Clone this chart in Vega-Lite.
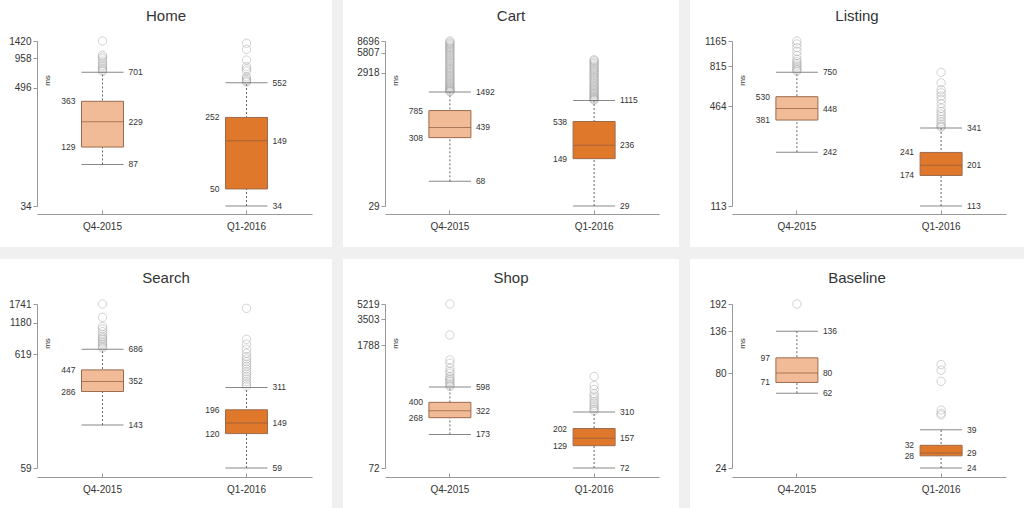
{
  "$schema": "https://vega.github.io/schema/vega-lite/v6.json",
  "background": "#f0f0f0",
  "padding": 0,
  "spacing": 12,
  "datasets": {
    "stats": [
      {"panel": "Home", "q": "Q4-2015", "lo": 87, "q1": 129, "med": 229, "q3": 363, "hi": 701},
      {"panel": "Home", "q": "Q1-2016", "lo": 34, "q1": 50, "med": 149, "q3": 252, "hi": 552},
      {"panel": "Cart", "q": "Q4-2015", "lo": 68, "q1": 308, "med": 439, "q3": 785, "hi": 1492},
      {"panel": "Cart", "q": "Q1-2016", "lo": 29, "q1": 149, "med": 236, "q3": 538, "hi": 1115},
      {"panel": "Listing", "q": "Q4-2015", "lo": 242, "q1": 381, "med": 448, "q3": 530, "hi": 750},
      {"panel": "Listing", "q": "Q1-2016", "lo": 113, "q1": 174, "med": 201, "q3": 241, "hi": 341},
      {"panel": "Search", "q": "Q4-2015", "lo": 143, "q1": 286, "med": 352, "q3": 447, "hi": 686},
      {"panel": "Search", "q": "Q1-2016", "lo": 59, "q1": 120, "med": 149, "q3": 196, "hi": 311},
      {"panel": "Shop", "q": "Q4-2015", "lo": 173, "q1": 268, "med": 322, "q3": 400, "hi": 598},
      {"panel": "Shop", "q": "Q1-2016", "lo": 72, "q1": 129, "med": 157, "q3": 202, "hi": 310},
      {"panel": "Baseline", "q": "Q4-2015", "lo": 62, "q1": 71, "med": 80, "q3": 97, "hi": 136},
      {"panel": "Baseline", "q": "Q1-2016", "lo": 24, "q1": 28, "med": 29, "q3": 32, "hi": 39}
    ],
    "out": [
      {"panel": "Home", "q": "Q4-2015", "v": 1420}, {"panel": "Home", "q": "Q4-2015", "v": 1030}, {"panel": "Home", "q": "Q4-2015", "v": 990}, {"panel": "Home", "q": "Q4-2015", "v": 950}, {"panel": "Home", "q": "Q4-2015", "v": 900}, {"panel": "Home", "q": "Q4-2015", "v": 860}, {"panel": "Home", "q": "Q4-2015", "v": 820}, {"panel": "Home", "q": "Q4-2015", "v": 790}, {"panel": "Home", "q": "Q4-2015", "v": 760}, {"panel": "Home", "q": "Q4-2015", "v": 735}, {"panel": "Home", "q": "Q4-2015", "v": 715},
      {"panel": "Home", "q": "Q1-2016", "v": 1350}, {"panel": "Home", "q": "Q1-2016", "v": 1174}, {"panel": "Home", "q": "Q1-2016", "v": 924}, {"panel": "Home", "q": "Q1-2016", "v": 795}, {"panel": "Home", "q": "Q1-2016", "v": 754}, {"panel": "Home", "q": "Q1-2016", "v": 720}, {"panel": "Home", "q": "Q1-2016", "v": 633}, {"panel": "Home", "q": "Q1-2016", "v": 610}, {"panel": "Home", "q": "Q1-2016", "v": 590}, {"panel": "Home", "q": "Q1-2016", "v": 575}, {"panel": "Home", "q": "Q1-2016", "v": 560},
      {"panel": "Cart", "q": "Q4-2015", "v": 8696}, {"panel": "Cart", "q": "Q4-2015", "v": 8350}, {"panel": "Cart", "q": "Q4-2015", "v": 8000}, {"panel": "Cart", "q": "Q4-2015", "v": 7650}, {"panel": "Cart", "q": "Q4-2015", "v": 7300}, {"panel": "Cart", "q": "Q4-2015", "v": 7000}, {"panel": "Cart", "q": "Q4-2015", "v": 6700}, {"panel": "Cart", "q": "Q4-2015", "v": 6400}, {"panel": "Cart", "q": "Q4-2015", "v": 6100}, {"panel": "Cart", "q": "Q4-2015", "v": 5800}, {"panel": "Cart", "q": "Q4-2015", "v": 5500}, {"panel": "Cart", "q": "Q4-2015", "v": 5250}, {"panel": "Cart", "q": "Q4-2015", "v": 5000}, {"panel": "Cart", "q": "Q4-2015", "v": 4750}, {"panel": "Cart", "q": "Q4-2015", "v": 4500}, {"panel": "Cart", "q": "Q4-2015", "v": 4300}, {"panel": "Cart", "q": "Q4-2015", "v": 4100}, {"panel": "Cart", "q": "Q4-2015", "v": 3900}, {"panel": "Cart", "q": "Q4-2015", "v": 3700}, {"panel": "Cart", "q": "Q4-2015", "v": 3500}, {"panel": "Cart", "q": "Q4-2015", "v": 3350}, {"panel": "Cart", "q": "Q4-2015", "v": 3200}, {"panel": "Cart", "q": "Q4-2015", "v": 3050}, {"panel": "Cart", "q": "Q4-2015", "v": 2900}, {"panel": "Cart", "q": "Q4-2015", "v": 2780}, {"panel": "Cart", "q": "Q4-2015", "v": 2650}, {"panel": "Cart", "q": "Q4-2015", "v": 2530}, {"panel": "Cart", "q": "Q4-2015", "v": 2420}, {"panel": "Cart", "q": "Q4-2015", "v": 2310}, {"panel": "Cart", "q": "Q4-2015", "v": 2200}, {"panel": "Cart", "q": "Q4-2015", "v": 2110}, {"panel": "Cart", "q": "Q4-2015", "v": 2020}, {"panel": "Cart", "q": "Q4-2015", "v": 1940}, {"panel": "Cart", "q": "Q4-2015", "v": 1860}, {"panel": "Cart", "q": "Q4-2015", "v": 1790}, {"panel": "Cart", "q": "Q4-2015", "v": 1720}, {"panel": "Cart", "q": "Q4-2015", "v": 1660}, {"panel": "Cart", "q": "Q4-2015", "v": 1600}, {"panel": "Cart", "q": "Q4-2015", "v": 1550}, {"panel": "Cart", "q": "Q4-2015", "v": 1510},
      {"panel": "Cart", "q": "Q1-2016", "v": 4557}, {"panel": "Cart", "q": "Q1-2016", "v": 4400}, {"panel": "Cart", "q": "Q1-2016", "v": 4200}, {"panel": "Cart", "q": "Q1-2016", "v": 4000}, {"panel": "Cart", "q": "Q1-2016", "v": 3800}, {"panel": "Cart", "q": "Q1-2016", "v": 3600}, {"panel": "Cart", "q": "Q1-2016", "v": 3400}, {"panel": "Cart", "q": "Q1-2016", "v": 3250}, {"panel": "Cart", "q": "Q1-2016", "v": 3100}, {"panel": "Cart", "q": "Q1-2016", "v": 2950}, {"panel": "Cart", "q": "Q1-2016", "v": 2800}, {"panel": "Cart", "q": "Q1-2016", "v": 2650}, {"panel": "Cart", "q": "Q1-2016", "v": 2520}, {"panel": "Cart", "q": "Q1-2016", "v": 2400}, {"panel": "Cart", "q": "Q1-2016", "v": 2280}, {"panel": "Cart", "q": "Q1-2016", "v": 2170}, {"panel": "Cart", "q": "Q1-2016", "v": 2060}, {"panel": "Cart", "q": "Q1-2016", "v": 1960}, {"panel": "Cart", "q": "Q1-2016", "v": 1870}, {"panel": "Cart", "q": "Q1-2016", "v": 1780}, {"panel": "Cart", "q": "Q1-2016", "v": 1700}, {"panel": "Cart", "q": "Q1-2016", "v": 1620}, {"panel": "Cart", "q": "Q1-2016", "v": 1550}, {"panel": "Cart", "q": "Q1-2016", "v": 1480}, {"panel": "Cart", "q": "Q1-2016", "v": 1420}, {"panel": "Cart", "q": "Q1-2016", "v": 1360}, {"panel": "Cart", "q": "Q1-2016", "v": 1300}, {"panel": "Cart", "q": "Q1-2016", "v": 1250}, {"panel": "Cart", "q": "Q1-2016", "v": 1200}, {"panel": "Cart", "q": "Q1-2016", "v": 1160}, {"panel": "Cart", "q": "Q1-2016", "v": 1130},
      {"panel": "Listing", "q": "Q4-2015", "v": 1165}, {"panel": "Listing", "q": "Q4-2015", "v": 1117}, {"panel": "Listing", "q": "Q4-2015", "v": 1060}, {"panel": "Listing", "q": "Q4-2015", "v": 1006}, {"panel": "Listing", "q": "Q4-2015", "v": 950}, {"panel": "Listing", "q": "Q4-2015", "v": 900}, {"panel": "Listing", "q": "Q4-2015", "v": 873}, {"panel": "Listing", "q": "Q4-2015", "v": 850}, {"panel": "Listing", "q": "Q4-2015", "v": 830}, {"panel": "Listing", "q": "Q4-2015", "v": 810}, {"panel": "Listing", "q": "Q4-2015", "v": 790}, {"panel": "Listing", "q": "Q4-2015", "v": 775}, {"panel": "Listing", "q": "Q4-2015", "v": 760},
      {"panel": "Listing", "q": "Q1-2016", "v": 748}, {"panel": "Listing", "q": "Q1-2016", "v": 645}, {"panel": "Listing", "q": "Q1-2016", "v": 585}, {"panel": "Listing", "q": "Q1-2016", "v": 560}, {"panel": "Listing", "q": "Q1-2016", "v": 535}, {"panel": "Listing", "q": "Q1-2016", "v": 510}, {"panel": "Listing", "q": "Q1-2016", "v": 480}, {"panel": "Listing", "q": "Q1-2016", "v": 450}, {"panel": "Listing", "q": "Q1-2016", "v": 430}, {"panel": "Listing", "q": "Q1-2016", "v": 415}, {"panel": "Listing", "q": "Q1-2016", "v": 400}, {"panel": "Listing", "q": "Q1-2016", "v": 385}, {"panel": "Listing", "q": "Q1-2016", "v": 372}, {"panel": "Listing", "q": "Q1-2016", "v": 360}, {"panel": "Listing", "q": "Q1-2016", "v": 350}, {"panel": "Listing", "q": "Q1-2016", "v": 345},
      {"panel": "Search", "q": "Q4-2015", "v": 1741}, {"panel": "Search", "q": "Q4-2015", "v": 1323}, {"panel": "Search", "q": "Q4-2015", "v": 1092}, {"panel": "Search", "q": "Q4-2015", "v": 1040}, {"panel": "Search", "q": "Q4-2015", "v": 983}, {"panel": "Search", "q": "Q4-2015", "v": 930}, {"panel": "Search", "q": "Q4-2015", "v": 888}, {"panel": "Search", "q": "Q4-2015", "v": 860}, {"panel": "Search", "q": "Q4-2015", "v": 833}, {"panel": "Search", "q": "Q4-2015", "v": 800}, {"panel": "Search", "q": "Q4-2015", "v": 775}, {"panel": "Search", "q": "Q4-2015", "v": 750}, {"panel": "Search", "q": "Q4-2015", "v": 723}, {"panel": "Search", "q": "Q4-2015", "v": 700},
      {"panel": "Search", "q": "Q1-2016", "v": 1592}, {"panel": "Search", "q": "Q1-2016", "v": 841}, {"panel": "Search", "q": "Q1-2016", "v": 760}, {"panel": "Search", "q": "Q1-2016", "v": 684}, {"panel": "Search", "q": "Q1-2016", "v": 630}, {"panel": "Search", "q": "Q1-2016", "v": 589}, {"panel": "Search", "q": "Q1-2016", "v": 560}, {"panel": "Search", "q": "Q1-2016", "v": 531}, {"panel": "Search", "q": "Q1-2016", "v": 505}, {"panel": "Search", "q": "Q1-2016", "v": 480}, {"panel": "Search", "q": "Q1-2016", "v": 455}, {"panel": "Search", "q": "Q1-2016", "v": 430}, {"panel": "Search", "q": "Q1-2016", "v": 410}, {"panel": "Search", "q": "Q1-2016", "v": 390}, {"panel": "Search", "q": "Q1-2016", "v": 370}, {"panel": "Search", "q": "Q1-2016", "v": 350}, {"panel": "Search", "q": "Q1-2016", "v": 335}, {"panel": "Search", "q": "Q1-2016", "v": 320},
      {"panel": "Shop", "q": "Q4-2015", "v": 5219}, {"panel": "Shop", "q": "Q4-2015", "v": 2326}, {"panel": "Shop", "q": "Q4-2015", "v": 1213}, {"panel": "Shop", "q": "Q4-2015", "v": 1112}, {"panel": "Shop", "q": "Q4-2015", "v": 975}, {"panel": "Shop", "q": "Q4-2015", "v": 900}, {"panel": "Shop", "q": "Q4-2015", "v": 856}, {"panel": "Shop", "q": "Q4-2015", "v": 785}, {"panel": "Shop", "q": "Q4-2015", "v": 750}, {"panel": "Shop", "q": "Q4-2015", "v": 720}, {"panel": "Shop", "q": "Q4-2015", "v": 690}, {"panel": "Shop", "q": "Q4-2015", "v": 661}, {"panel": "Shop", "q": "Q4-2015", "v": 630}, {"panel": "Shop", "q": "Q4-2015", "v": 606},
      {"panel": "Shop", "q": "Q1-2016", "v": 785}, {"panel": "Shop", "q": "Q1-2016", "v": 622}, {"panel": "Shop", "q": "Q1-2016", "v": 560}, {"panel": "Shop", "q": "Q1-2016", "v": 500}, {"panel": "Shop", "q": "Q1-2016", "v": 470}, {"panel": "Shop", "q": "Q1-2016", "v": 440}, {"panel": "Shop", "q": "Q1-2016", "v": 410}, {"panel": "Shop", "q": "Q1-2016", "v": 390}, {"panel": "Shop", "q": "Q1-2016", "v": 370}, {"panel": "Shop", "q": "Q1-2016", "v": 350}, {"panel": "Shop", "q": "Q1-2016", "v": 335}, {"panel": "Shop", "q": "Q1-2016", "v": 320},
      {"panel": "Baseline", "q": "Q4-2015", "v": 192},
      {"panel": "Baseline", "q": "Q1-2016", "v": 89}, {"panel": "Baseline", "q": "Q1-2016", "v": 83}, {"panel": "Baseline", "q": "Q1-2016", "v": 72}, {"panel": "Baseline", "q": "Q1-2016", "v": 50}, {"panel": "Baseline", "q": "Q1-2016", "v": 48}, {"panel": "Baseline", "q": "Q1-2016", "v": 47}
    ]
  },
  "vconcat": [
    {
      "spacing": 11,
      "hconcat": [
        {
          "width": 332, "height": 247,
          "title": {"text": "Home", "offset": -24},
          "encoding": {"x": {"field": "q", "type": "nominal", "sort": ["Q4-2015", "Q1-2016"], "scale": {"domain": ["Q4-2015", "Q1-2016"], "range": [37, 312], "paddingInner": 0.5, "paddingOuter": 0.205}, "axis": {"offset": -33, "title": null}}},
          "layer": [
            {"data": {"name": "stats"}, "transform": [{"filter": "datum.panel === 'Home'"}], "mark": {"type": "rule", "strokeDash": [2, 2], "color": "#666"}, "encoding": {"y": {"field": "lo", "type": "quantitative", "title": "ms", "scale": {"type": "log", "domain": [34, 1420], "range": [206, 41], "nice": false}, "axis": {"values": [34, 496, 958, 1420], "labelExpr": "format(datum.value, 'd')", "offset": -37, "title": "ms", "titleX": 10, "titleY": 80}}, "y2": {"field": "hi"}}},
            {"data": {"name": "out"}, "transform": [{"filter": "datum.panel === 'Home'"}], "mark": {"type": "point", "shape": "circle", "size": 70, "filled": false, "stroke": "#999", "strokeOpacity": 0.6, "strokeWidth": 1}, "encoding": {"y": {"field": "v", "type": "quantitative", "title": "ms"}}},
            {"data": {"name": "stats"}, "transform": [{"filter": "datum.panel === 'Home'"}], "mark": {"type": "tick", "color": "#555", "thickness": 1, "size": 42}, "encoding": {"y": {"field": "lo", "type": "quantitative", "title": "ms"}}},
            {"data": {"name": "stats"}, "transform": [{"filter": "datum.panel === 'Home'"}], "mark": {"type": "tick", "color": "#555", "thickness": 1, "size": 42}, "encoding": {"y": {"field": "hi", "type": "quantitative", "title": "ms"}}},
            {"data": {"name": "stats"}, "transform": [{"filter": "datum.panel === 'Home'"}], "mark": {"type": "bar", "size": 42, "stroke": "#9c6b4e", "strokeWidth": 1}, "encoding": {"y": {"field": "q1", "type": "quantitative", "title": "ms"}, "y2": {"field": "q3"}, "color": {"field": "q", "type": "nominal", "scale": {"domain": ["Q4-2015", "Q1-2016"], "range": ["#f2bb97", "#e0782b"]}, "legend": null}}},
            {"data": {"name": "stats"}, "transform": [{"filter": "datum.panel === 'Home'"}], "mark": {"type": "tick", "color": "#8a5d40", "thickness": 1, "size": 42}, "encoding": {"y": {"field": "med", "type": "quantitative", "title": "ms"}}},
            {"data": {"name": "stats"}, "transform": [{"filter": "datum.panel === 'Home'"}], "mark": {"type": "text", "align": "right", "dx": -27, "fontSize": 8.5, "color": "#333"}, "encoding": {"y": {"field": "q3", "type": "quantitative", "title": "ms"}, "text": {"field": "q3", "type": "quantitative", "format": "d"}}},
            {"data": {"name": "stats"}, "transform": [{"filter": "datum.panel === 'Home'"}], "mark": {"type": "text", "align": "right", "dx": -27, "fontSize": 8.5, "color": "#333"}, "encoding": {"y": {"field": "q1", "type": "quantitative", "title": "ms"}, "text": {"field": "q1", "type": "quantitative", "format": "d"}}},
            {"data": {"name": "stats"}, "transform": [{"filter": "datum.panel === 'Home'"}], "mark": {"type": "text", "align": "left", "dx": 26, "fontSize": 8.5, "color": "#333"}, "encoding": {"y": {"field": "med", "type": "quantitative", "title": "ms"}, "text": {"field": "med", "type": "quantitative", "format": "d"}}},
            {"data": {"name": "stats"}, "transform": [{"filter": "datum.panel === 'Home'"}], "mark": {"type": "text", "align": "left", "dx": 26, "fontSize": 8.5, "color": "#333"}, "encoding": {"y": {"field": "hi", "type": "quantitative", "title": "ms"}, "text": {"field": "hi", "type": "quantitative", "format": "d"}}},
            {"data": {"name": "stats"}, "transform": [{"filter": "datum.panel === 'Home'"}], "mark": {"type": "text", "align": "left", "dx": 26, "fontSize": 8.5, "color": "#333"}, "encoding": {"y": {"field": "lo", "type": "quantitative", "title": "ms"}, "text": {"field": "lo", "type": "quantitative", "format": "d"}}}
          ]
        },
        {
          "width": 336, "height": 247,
          "title": {"text": "Cart", "offset": -24},
          "encoding": {"x": {"field": "q", "type": "nominal", "sort": ["Q4-2015", "Q1-2016"], "scale": {"domain": ["Q4-2015", "Q1-2016"], "range": [42, 316], "paddingInner": 0.5, "paddingOuter": 0.2}, "axis": {"offset": -33, "title": null}}},
          "layer": [
            {"data": {"name": "stats"}, "transform": [{"filter": "datum.panel === 'Cart'"}], "mark": {"type": "rule", "strokeDash": [2, 2], "color": "#666"}, "encoding": {"y": {"field": "lo", "type": "quantitative", "title": "ms", "scale": {"type": "log", "domain": [29, 8696], "range": [206, 41], "nice": false}, "axis": {"values": [29, 2918, 5807, 8696], "labelExpr": "format(datum.value, 'd')", "offset": -42, "title": "ms", "titleX": 10, "titleY": 80}}, "y2": {"field": "hi"}}},
            {"data": {"name": "out"}, "transform": [{"filter": "datum.panel === 'Cart'"}], "mark": {"type": "point", "shape": "circle", "size": 70, "filled": false, "stroke": "#999", "strokeOpacity": 0.6, "strokeWidth": 1}, "encoding": {"y": {"field": "v", "type": "quantitative", "title": "ms"}}},
            {"data": {"name": "stats"}, "transform": [{"filter": "datum.panel === 'Cart'"}], "mark": {"type": "tick", "color": "#555", "thickness": 1, "size": 42}, "encoding": {"y": {"field": "lo", "type": "quantitative", "title": "ms"}}},
            {"data": {"name": "stats"}, "transform": [{"filter": "datum.panel === 'Cart'"}], "mark": {"type": "tick", "color": "#555", "thickness": 1, "size": 42}, "encoding": {"y": {"field": "hi", "type": "quantitative", "title": "ms"}}},
            {"data": {"name": "stats"}, "transform": [{"filter": "datum.panel === 'Cart'"}], "mark": {"type": "bar", "size": 42, "stroke": "#9c6b4e", "strokeWidth": 1}, "encoding": {"y": {"field": "q1", "type": "quantitative", "title": "ms"}, "y2": {"field": "q3"}, "color": {"field": "q", "type": "nominal", "scale": {"domain": ["Q4-2015", "Q1-2016"], "range": ["#f2bb97", "#e0782b"]}, "legend": null}}},
            {"data": {"name": "stats"}, "transform": [{"filter": "datum.panel === 'Cart'"}], "mark": {"type": "tick", "color": "#8a5d40", "thickness": 1, "size": 42}, "encoding": {"y": {"field": "med", "type": "quantitative", "title": "ms"}}},
            {"data": {"name": "stats"}, "transform": [{"filter": "datum.panel === 'Cart'"}], "mark": {"type": "text", "align": "right", "dx": -27, "fontSize": 8.5, "color": "#333"}, "encoding": {"y": {"field": "q3", "type": "quantitative", "title": "ms"}, "text": {"field": "q3", "type": "quantitative", "format": "d"}}},
            {"data": {"name": "stats"}, "transform": [{"filter": "datum.panel === 'Cart'"}], "mark": {"type": "text", "align": "right", "dx": -27, "fontSize": 8.5, "color": "#333"}, "encoding": {"y": {"field": "q1", "type": "quantitative", "title": "ms"}, "text": {"field": "q1", "type": "quantitative", "format": "d"}}},
            {"data": {"name": "stats"}, "transform": [{"filter": "datum.panel === 'Cart'"}], "mark": {"type": "text", "align": "left", "dx": 26, "fontSize": 8.5, "color": "#333"}, "encoding": {"y": {"field": "med", "type": "quantitative", "title": "ms"}, "text": {"field": "med", "type": "quantitative", "format": "d"}}},
            {"data": {"name": "stats"}, "transform": [{"filter": "datum.panel === 'Cart'"}], "mark": {"type": "text", "align": "left", "dx": 26, "fontSize": 8.5, "color": "#333"}, "encoding": {"y": {"field": "hi", "type": "quantitative", "title": "ms"}, "text": {"field": "hi", "type": "quantitative", "format": "d"}}},
            {"data": {"name": "stats"}, "transform": [{"filter": "datum.panel === 'Cart'"}], "mark": {"type": "text", "align": "left", "dx": 26, "fontSize": 8.5, "color": "#333"}, "encoding": {"y": {"field": "lo", "type": "quantitative", "title": "ms"}, "text": {"field": "lo", "type": "quantitative", "format": "d"}}}
          ]
        },
        {
          "width": 334, "height": 247,
          "title": {"text": "Listing", "offset": -24},
          "encoding": {"x": {"field": "q", "type": "nominal", "sort": ["Q4-2015", "Q1-2016"], "scale": {"domain": ["Q4-2015", "Q1-2016"], "range": [42, 316], "paddingInner": 0.5, "paddingOuter": 0.2}, "axis": {"offset": -33, "title": null}}},
          "layer": [
            {"data": {"name": "stats"}, "transform": [{"filter": "datum.panel === 'Listing'"}], "mark": {"type": "rule", "strokeDash": [2, 2], "color": "#666"}, "encoding": {"y": {"field": "lo", "type": "quantitative", "title": "ms", "scale": {"type": "log", "domain": [113, 1165], "range": [206, 41], "nice": false}, "axis": {"values": [113, 464, 815, 1165], "labelExpr": "format(datum.value, 'd')", "offset": -42, "title": "ms", "titleX": 10, "titleY": 80}}, "y2": {"field": "hi"}}},
            {"data": {"name": "out"}, "transform": [{"filter": "datum.panel === 'Listing'"}], "mark": {"type": "point", "shape": "circle", "size": 70, "filled": false, "stroke": "#999", "strokeOpacity": 0.6, "strokeWidth": 1}, "encoding": {"y": {"field": "v", "type": "quantitative", "title": "ms"}}},
            {"data": {"name": "stats"}, "transform": [{"filter": "datum.panel === 'Listing'"}], "mark": {"type": "tick", "color": "#555", "thickness": 1, "size": 42}, "encoding": {"y": {"field": "lo", "type": "quantitative", "title": "ms"}}},
            {"data": {"name": "stats"}, "transform": [{"filter": "datum.panel === 'Listing'"}], "mark": {"type": "tick", "color": "#555", "thickness": 1, "size": 42}, "encoding": {"y": {"field": "hi", "type": "quantitative", "title": "ms"}}},
            {"data": {"name": "stats"}, "transform": [{"filter": "datum.panel === 'Listing'"}], "mark": {"type": "bar", "size": 42, "stroke": "#9c6b4e", "strokeWidth": 1}, "encoding": {"y": {"field": "q1", "type": "quantitative", "title": "ms"}, "y2": {"field": "q3"}, "color": {"field": "q", "type": "nominal", "scale": {"domain": ["Q4-2015", "Q1-2016"], "range": ["#f2bb97", "#e0782b"]}, "legend": null}}},
            {"data": {"name": "stats"}, "transform": [{"filter": "datum.panel === 'Listing'"}], "mark": {"type": "tick", "color": "#8a5d40", "thickness": 1, "size": 42}, "encoding": {"y": {"field": "med", "type": "quantitative", "title": "ms"}}},
            {"data": {"name": "stats"}, "transform": [{"filter": "datum.panel === 'Listing'"}], "mark": {"type": "text", "align": "right", "dx": -27, "fontSize": 8.5, "color": "#333"}, "encoding": {"y": {"field": "q3", "type": "quantitative", "title": "ms"}, "text": {"field": "q3", "type": "quantitative", "format": "d"}}},
            {"data": {"name": "stats"}, "transform": [{"filter": "datum.panel === 'Listing'"}], "mark": {"type": "text", "align": "right", "dx": -27, "fontSize": 8.5, "color": "#333"}, "encoding": {"y": {"field": "q1", "type": "quantitative", "title": "ms"}, "text": {"field": "q1", "type": "quantitative", "format": "d"}}},
            {"data": {"name": "stats"}, "transform": [{"filter": "datum.panel === 'Listing'"}], "mark": {"type": "text", "align": "left", "dx": 26, "fontSize": 8.5, "color": "#333"}, "encoding": {"y": {"field": "med", "type": "quantitative", "title": "ms"}, "text": {"field": "med", "type": "quantitative", "format": "d"}}},
            {"data": {"name": "stats"}, "transform": [{"filter": "datum.panel === 'Listing'"}], "mark": {"type": "text", "align": "left", "dx": 26, "fontSize": 8.5, "color": "#333"}, "encoding": {"y": {"field": "hi", "type": "quantitative", "title": "ms"}, "text": {"field": "hi", "type": "quantitative", "format": "d"}}},
            {"data": {"name": "stats"}, "transform": [{"filter": "datum.panel === 'Listing'"}], "mark": {"type": "text", "align": "left", "dx": 26, "fontSize": 8.5, "color": "#333"}, "encoding": {"y": {"field": "lo", "type": "quantitative", "title": "ms"}, "text": {"field": "lo", "type": "quantitative", "format": "d"}}}
          ]
        }
      ]
    },
    {
      "spacing": 11,
      "hconcat": [
        {
          "width": 332, "height": 249,
          "title": {"text": "Search", "offset": -27},
          "encoding": {"x": {"field": "q", "type": "nominal", "sort": ["Q4-2015", "Q1-2016"], "scale": {"domain": ["Q4-2015", "Q1-2016"], "range": [37, 312], "paddingInner": 0.5, "paddingOuter": 0.205}, "axis": {"offset": -31, "title": null}}},
          "layer": [
            {"data": {"name": "stats"}, "transform": [{"filter": "datum.panel === 'Search'"}], "mark": {"type": "rule", "strokeDash": [2, 2], "color": "#666"}, "encoding": {"y": {"field": "lo", "type": "quantitative", "title": "ms", "scale": {"type": "log", "domain": [59, 1741], "range": [209, 45], "nice": false}, "axis": {"values": [59, 619, 1180, 1741], "labelExpr": "format(datum.value, 'd')", "offset": -37, "title": "ms", "titleX": 10, "titleY": 84}}, "y2": {"field": "hi"}}},
            {"data": {"name": "out"}, "transform": [{"filter": "datum.panel === 'Search'"}], "mark": {"type": "point", "shape": "circle", "size": 70, "filled": false, "stroke": "#999", "strokeOpacity": 0.6, "strokeWidth": 1}, "encoding": {"y": {"field": "v", "type": "quantitative", "title": "ms"}}},
            {"data": {"name": "stats"}, "transform": [{"filter": "datum.panel === 'Search'"}], "mark": {"type": "tick", "color": "#555", "thickness": 1, "size": 42}, "encoding": {"y": {"field": "lo", "type": "quantitative", "title": "ms"}}},
            {"data": {"name": "stats"}, "transform": [{"filter": "datum.panel === 'Search'"}], "mark": {"type": "tick", "color": "#555", "thickness": 1, "size": 42}, "encoding": {"y": {"field": "hi", "type": "quantitative", "title": "ms"}}},
            {"data": {"name": "stats"}, "transform": [{"filter": "datum.panel === 'Search'"}], "mark": {"type": "bar", "size": 42, "stroke": "#9c6b4e", "strokeWidth": 1}, "encoding": {"y": {"field": "q1", "type": "quantitative", "title": "ms"}, "y2": {"field": "q3"}, "color": {"field": "q", "type": "nominal", "scale": {"domain": ["Q4-2015", "Q1-2016"], "range": ["#f2bb97", "#e0782b"]}, "legend": null}}},
            {"data": {"name": "stats"}, "transform": [{"filter": "datum.panel === 'Search'"}], "mark": {"type": "tick", "color": "#8a5d40", "thickness": 1, "size": 42}, "encoding": {"y": {"field": "med", "type": "quantitative", "title": "ms"}}},
            {"data": {"name": "stats"}, "transform": [{"filter": "datum.panel === 'Search'"}], "mark": {"type": "text", "align": "right", "dx": -27, "fontSize": 8.5, "color": "#333"}, "encoding": {"y": {"field": "q3", "type": "quantitative", "title": "ms"}, "text": {"field": "q3", "type": "quantitative", "format": "d"}}},
            {"data": {"name": "stats"}, "transform": [{"filter": "datum.panel === 'Search'"}], "mark": {"type": "text", "align": "right", "dx": -27, "fontSize": 8.5, "color": "#333"}, "encoding": {"y": {"field": "q1", "type": "quantitative", "title": "ms"}, "text": {"field": "q1", "type": "quantitative", "format": "d"}}},
            {"data": {"name": "stats"}, "transform": [{"filter": "datum.panel === 'Search'"}], "mark": {"type": "text", "align": "left", "dx": 26, "fontSize": 8.5, "color": "#333"}, "encoding": {"y": {"field": "med", "type": "quantitative", "title": "ms"}, "text": {"field": "med", "type": "quantitative", "format": "d"}}},
            {"data": {"name": "stats"}, "transform": [{"filter": "datum.panel === 'Search'"}], "mark": {"type": "text", "align": "left", "dx": 26, "fontSize": 8.5, "color": "#333"}, "encoding": {"y": {"field": "hi", "type": "quantitative", "title": "ms"}, "text": {"field": "hi", "type": "quantitative", "format": "d"}}},
            {"data": {"name": "stats"}, "transform": [{"filter": "datum.panel === 'Search'"}], "mark": {"type": "text", "align": "left", "dx": 26, "fontSize": 8.5, "color": "#333"}, "encoding": {"y": {"field": "lo", "type": "quantitative", "title": "ms"}, "text": {"field": "lo", "type": "quantitative", "format": "d"}}}
          ]
        },
        {
          "width": 336, "height": 249,
          "title": {"text": "Shop", "offset": -27},
          "encoding": {"x": {"field": "q", "type": "nominal", "sort": ["Q4-2015", "Q1-2016"], "scale": {"domain": ["Q4-2015", "Q1-2016"], "range": [42, 316], "paddingInner": 0.5, "paddingOuter": 0.2}, "axis": {"offset": -31, "title": null}}},
          "layer": [
            {"data": {"name": "stats"}, "transform": [{"filter": "datum.panel === 'Shop'"}], "mark": {"type": "rule", "strokeDash": [2, 2], "color": "#666"}, "encoding": {"y": {"field": "lo", "type": "quantitative", "title": "ms", "scale": {"type": "log", "domain": [72, 5219], "range": [209, 45], "nice": false}, "axis": {"values": [72, 1788, 3503, 5219], "labelExpr": "format(datum.value, 'd')", "offset": -42, "title": "ms", "titleX": 10, "titleY": 84}}, "y2": {"field": "hi"}}},
            {"data": {"name": "out"}, "transform": [{"filter": "datum.panel === 'Shop'"}], "mark": {"type": "point", "shape": "circle", "size": 70, "filled": false, "stroke": "#999", "strokeOpacity": 0.6, "strokeWidth": 1}, "encoding": {"y": {"field": "v", "type": "quantitative", "title": "ms"}}},
            {"data": {"name": "stats"}, "transform": [{"filter": "datum.panel === 'Shop'"}], "mark": {"type": "tick", "color": "#555", "thickness": 1, "size": 42}, "encoding": {"y": {"field": "lo", "type": "quantitative", "title": "ms"}}},
            {"data": {"name": "stats"}, "transform": [{"filter": "datum.panel === 'Shop'"}], "mark": {"type": "tick", "color": "#555", "thickness": 1, "size": 42}, "encoding": {"y": {"field": "hi", "type": "quantitative", "title": "ms"}}},
            {"data": {"name": "stats"}, "transform": [{"filter": "datum.panel === 'Shop'"}], "mark": {"type": "bar", "size": 42, "stroke": "#9c6b4e", "strokeWidth": 1}, "encoding": {"y": {"field": "q1", "type": "quantitative", "title": "ms"}, "y2": {"field": "q3"}, "color": {"field": "q", "type": "nominal", "scale": {"domain": ["Q4-2015", "Q1-2016"], "range": ["#f2bb97", "#e0782b"]}, "legend": null}}},
            {"data": {"name": "stats"}, "transform": [{"filter": "datum.panel === 'Shop'"}], "mark": {"type": "tick", "color": "#8a5d40", "thickness": 1, "size": 42}, "encoding": {"y": {"field": "med", "type": "quantitative", "title": "ms"}}},
            {"data": {"name": "stats"}, "transform": [{"filter": "datum.panel === 'Shop'"}], "mark": {"type": "text", "align": "right", "dx": -27, "fontSize": 8.5, "color": "#333"}, "encoding": {"y": {"field": "q3", "type": "quantitative", "title": "ms"}, "text": {"field": "q3", "type": "quantitative", "format": "d"}}},
            {"data": {"name": "stats"}, "transform": [{"filter": "datum.panel === 'Shop'"}], "mark": {"type": "text", "align": "right", "dx": -27, "fontSize": 8.5, "color": "#333"}, "encoding": {"y": {"field": "q1", "type": "quantitative", "title": "ms"}, "text": {"field": "q1", "type": "quantitative", "format": "d"}}},
            {"data": {"name": "stats"}, "transform": [{"filter": "datum.panel === 'Shop'"}], "mark": {"type": "text", "align": "left", "dx": 26, "fontSize": 8.5, "color": "#333"}, "encoding": {"y": {"field": "med", "type": "quantitative", "title": "ms"}, "text": {"field": "med", "type": "quantitative", "format": "d"}}},
            {"data": {"name": "stats"}, "transform": [{"filter": "datum.panel === 'Shop'"}], "mark": {"type": "text", "align": "left", "dx": 26, "fontSize": 8.5, "color": "#333"}, "encoding": {"y": {"field": "hi", "type": "quantitative", "title": "ms"}, "text": {"field": "hi", "type": "quantitative", "format": "d"}}},
            {"data": {"name": "stats"}, "transform": [{"filter": "datum.panel === 'Shop'"}], "mark": {"type": "text", "align": "left", "dx": 26, "fontSize": 8.5, "color": "#333"}, "encoding": {"y": {"field": "lo", "type": "quantitative", "title": "ms"}, "text": {"field": "lo", "type": "quantitative", "format": "d"}}}
          ]
        },
        {
          "width": 334, "height": 249,
          "title": {"text": "Baseline", "offset": -27},
          "encoding": {"x": {"field": "q", "type": "nominal", "sort": ["Q4-2015", "Q1-2016"], "scale": {"domain": ["Q4-2015", "Q1-2016"], "range": [42, 316], "paddingInner": 0.5, "paddingOuter": 0.2}, "axis": {"offset": -31, "title": null}}},
          "layer": [
            {"data": {"name": "stats"}, "transform": [{"filter": "datum.panel === 'Baseline'"}], "mark": {"type": "rule", "strokeDash": [2, 2], "color": "#666"}, "encoding": {"y": {"field": "lo", "type": "quantitative", "title": "ms", "scale": {"type": "log", "domain": [24, 192], "range": [209, 45], "nice": false}, "axis": {"values": [24, 80, 136, 192], "labelExpr": "format(datum.value, 'd')", "offset": -42, "title": "ms", "titleX": 10, "titleY": 84}}, "y2": {"field": "hi"}}},
            {"data": {"name": "out"}, "transform": [{"filter": "datum.panel === 'Baseline'"}], "mark": {"type": "point", "shape": "circle", "size": 70, "filled": false, "stroke": "#999", "strokeOpacity": 0.6, "strokeWidth": 1}, "encoding": {"y": {"field": "v", "type": "quantitative", "title": "ms"}}},
            {"data": {"name": "stats"}, "transform": [{"filter": "datum.panel === 'Baseline'"}], "mark": {"type": "tick", "color": "#555", "thickness": 1, "size": 42}, "encoding": {"y": {"field": "lo", "type": "quantitative", "title": "ms"}}},
            {"data": {"name": "stats"}, "transform": [{"filter": "datum.panel === 'Baseline'"}], "mark": {"type": "tick", "color": "#555", "thickness": 1, "size": 42}, "encoding": {"y": {"field": "hi", "type": "quantitative", "title": "ms"}}},
            {"data": {"name": "stats"}, "transform": [{"filter": "datum.panel === 'Baseline'"}], "mark": {"type": "bar", "size": 42, "stroke": "#9c6b4e", "strokeWidth": 1}, "encoding": {"y": {"field": "q1", "type": "quantitative", "title": "ms"}, "y2": {"field": "q3"}, "color": {"field": "q", "type": "nominal", "scale": {"domain": ["Q4-2015", "Q1-2016"], "range": ["#f2bb97", "#e0782b"]}, "legend": null}}},
            {"data": {"name": "stats"}, "transform": [{"filter": "datum.panel === 'Baseline'"}], "mark": {"type": "tick", "color": "#8a5d40", "thickness": 1, "size": 42}, "encoding": {"y": {"field": "med", "type": "quantitative", "title": "ms"}}},
            {"data": {"name": "stats"}, "transform": [{"filter": "datum.panel === 'Baseline'"}], "mark": {"type": "text", "align": "right", "dx": -27, "fontSize": 8.5, "color": "#333"}, "encoding": {"y": {"field": "q3", "type": "quantitative", "title": "ms"}, "text": {"field": "q3", "type": "quantitative", "format": "d"}}},
            {"data": {"name": "stats"}, "transform": [{"filter": "datum.panel === 'Baseline'"}], "mark": {"type": "text", "align": "right", "dx": -27, "fontSize": 8.5, "color": "#333"}, "encoding": {"y": {"field": "q1", "type": "quantitative", "title": "ms"}, "text": {"field": "q1", "type": "quantitative", "format": "d"}}},
            {"data": {"name": "stats"}, "transform": [{"filter": "datum.panel === 'Baseline'"}], "mark": {"type": "text", "align": "left", "dx": 26, "fontSize": 8.5, "color": "#333"}, "encoding": {"y": {"field": "med", "type": "quantitative", "title": "ms"}, "text": {"field": "med", "type": "quantitative", "format": "d"}}},
            {"data": {"name": "stats"}, "transform": [{"filter": "datum.panel === 'Baseline'"}], "mark": {"type": "text", "align": "left", "dx": 26, "fontSize": 8.5, "color": "#333"}, "encoding": {"y": {"field": "hi", "type": "quantitative", "title": "ms"}, "text": {"field": "hi", "type": "quantitative", "format": "d"}}},
            {"data": {"name": "stats"}, "transform": [{"filter": "datum.panel === 'Baseline'"}], "mark": {"type": "text", "align": "left", "dx": 26, "fontSize": 8.5, "color": "#333"}, "encoding": {"y": {"field": "lo", "type": "quantitative", "title": "ms"}, "text": {"field": "lo", "type": "quantitative", "format": "d"}}}
          ]
        }
      ]
    }
  ],
  "config": {
    "font": "Liberation Sans",
    "view": {"fill": "white", "stroke": null},
    "axis": {"grid": false, "domainColor": "#999", "tickColor": "#999", "labelColor": "#333", "labelFontSize": 10, "titleFontSize": 8, "titleFontWeight": "normal", "titleColor": "#333"},
    "axisY": {"tickSize": 4, "labelPadding": 2, "titleBaseline": "middle", "titleAlign": "center"},
    "axisX": {"tickSize": -4, "labelPadding": 11, "labelAngle": 0},
    "title": {"fontSize": 15, "fontWeight": "normal", "color": "#333", "baseline": "middle", "frame": "group", "anchor": "middle"}
  }
}
